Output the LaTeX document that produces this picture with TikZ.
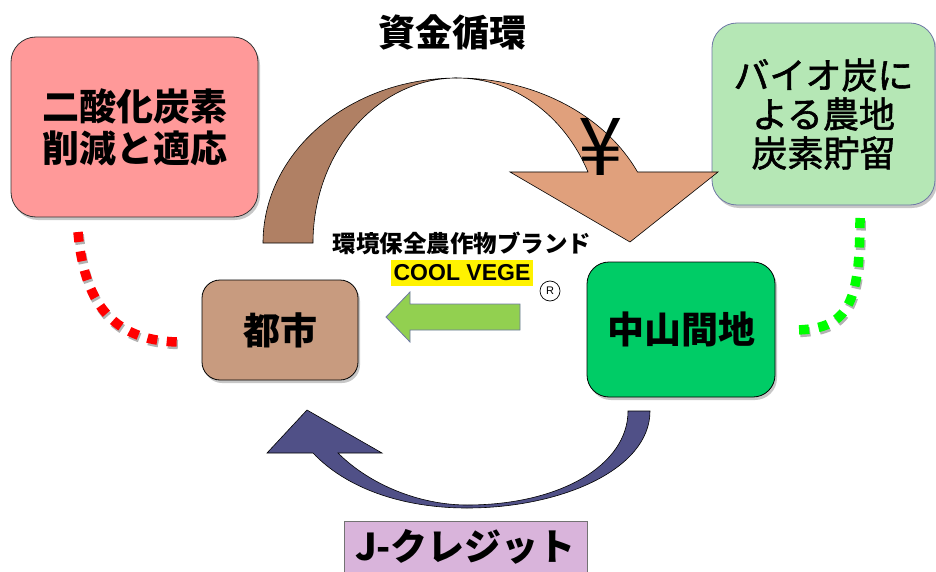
\documentclass[tikz,border=0pt]{standalone}
\usepackage{fontspec}
\newfontfamily\jp{Noto Sans CJK JP}
\newfontfamily\jpmed[FakeBold=1.6]{Noto Sans CJK JP}
\newfontfamily\arialf{Liberation Sans}
\definecolor{pinkc}{RGB}{255,153,153}
\definecolor{biog}{RGB}{181,231,181}
\definecolor{tanc}{RGB}{200,155,127}
\definecolor{greenc}{RGB}{0,204,102}
\definecolor{brownA}{RGB}{176,128,100}
\definecolor{brownB}{RGB}{224,160,124}
\definecolor{purplec}{RGB}{217,180,219}
\definecolor{navyc}{RGB}{80,80,135}
\definecolor{limec}{RGB}{146,208,80}
\definecolor{bluegray}{RGB}{110,120,165}
\definecolor{redc}{RGB}{255,0,0}
\definecolor{greendot}{RGB}{0,255,0}
\begin{document}
\begin{tikzpicture}[x=1pt,y=-1pt,
  box/.style={draw=black!80, line width=0.8pt, inner sep=0pt, align=center},
  bigtxt/.style={font=\jp\bfseries\fontsize{37}{42}\selectfont},
  biotxt/.style={font=\jpmed\fontsize{36}{39}\selectfont},
  dots/.style={line width=9.5pt, dash pattern=on 10pt off 9.5pt, line cap=butt},
  dotshadow/.style={dots, draw=black!30},
  bigarrow/.style={draw=black, line width=0.6pt}
]
\useasboundingbox (0,0) rectangle (936,572);
\clip (0,0) rectangle (936,572);

% ---------- boxes ----------
\fill[black!22, rounded corners=25] (13,40) rectangle (260,220);
\node[box, fill=pinkc, rounded corners=25, minimum width=247, minimum height=180, bigtxt]
  (co2) at (134.5,127) {二酸化炭素\\削減と適応};

\fill[black!22, rounded corners=25] (714,26) rectangle (937,208);
\node[box, draw=bluegray, fill=biog, rounded corners=25, minimum width=223, minimum height=182, biotxt]
  (bio) at (823.5,114) {バイオ炭に\\よる農地\\炭素貯留};

\fill[black!22, rounded corners=18] (204,283) rectangle (360,383);
\node[box, draw=black, fill=tanc, rounded corners=18, minimum width=156, minimum height=100, bigtxt]
  (city) at (280,330) {都市};

\fill[black!22, rounded corners=22] (589,265) rectangle (777,400);
\node[box, draw=black, fill=greenc, rounded corners=22, minimum width=188, minimum height=135, bigtxt]
  (mount) at (681,329.5) {中山間地};

\node[box, draw=black!55, fill=purplec, minimum width=243, minimum height=52,
  font=\jp\bfseries\fontsize{37}{42}\selectfont]
  (jc) at (465.5,547) {J-クレジット};

% ---------- title ----------
\node[font=\jp\bfseries\fontsize{37}{42}\selectfont] (title) at (452,32) {資金循環};

% ---------- top curved arrow ----------
\path[bigarrow, fill=brownA]
  (263,243) arc[start angle=180, end angle=270, x radius=194, y radius=165]
  arc[start angle=270, end angle=180, x radius=144, y radius=165] -- cycle;
\path[bigarrow, fill=brownB]
  (457,78) arc[start angle=270, end angle=334.5, x radius=200, y radius=165]
  -- (718,172) -- (630,242) -- (510,172) -- (588,172)
  arc[start angle=334.5, end angle=270, x radius=145, y radius=165] -- cycle;
\node[font=\jp\fontsize{80}{80}\selectfont, inner sep=0pt] (yen) at (601,147) {¥};

% ---------- brand text ----------
\node[font=\jp\bfseries\fontsize{23.5}{26}\selectfont, inner sep=0pt] (brand) at (462,243) {環境保全農作物ブランド};
\node[fill=yellow, inner sep=0pt, minimum width=142, minimum height=26,
  font=\arialf\bfseries\fontsize{23}{26}\selectfont] (cool) at (462,273) {COOL VEGE};
\node[draw=black, circle, line width=0.7pt, minimum size=20, inner sep=0pt,
  font=\arialf\fontsize{11}{12}\selectfont] (reg) at (550,291) {R};

% ---------- green arrow ----------
\path[draw=bluegray, line width=0.8pt, fill=limec]
  (520,304) -- (410,304) -- (410,292) -- (386,317) -- (410,342) -- (410,330) -- (520,330) -- cycle;

% ---------- bottom curved arrow ----------
\path[draw=black, line width=0.6pt, fill=navyc]
  (650,411) -- (628,411)
  .. controls (628,465) and (560,505) .. (467,505)
  .. controls (420,505) and (370,485) .. (338,453)
  -- (382,453) -- (307,410) -- (267,453) -- (313,453)
  .. controls (345,487) and (400,508) .. (467,508)
  .. controls (560,508) and (650,470) .. (650,411) -- cycle;

% ---------- dotted links ----------
\coordinate (r1) at (78,232);
\coordinate (r2) at (177,342);
\coordinate (g1) at (860,218);
\coordinate (g2) at (793,330);
\draw[dotshadow, transform canvas={shift={(1.2pt,-2.5pt)}}] (r1) .. controls (84,300) and (110,340) .. (r2);
\draw[dots, draw=redc] (r1) .. controls (84,300) and (110,340) .. (r2);
\draw[dotshadow, transform canvas={shift={(1.2pt,-2.5pt)}}] (g1) .. controls (860,305) and (848,330) .. (g2);
\draw[dots, draw=greendot] (g1) .. controls (860,305) and (848,330) .. (g2);
\end{tikzpicture}
\end{document}
